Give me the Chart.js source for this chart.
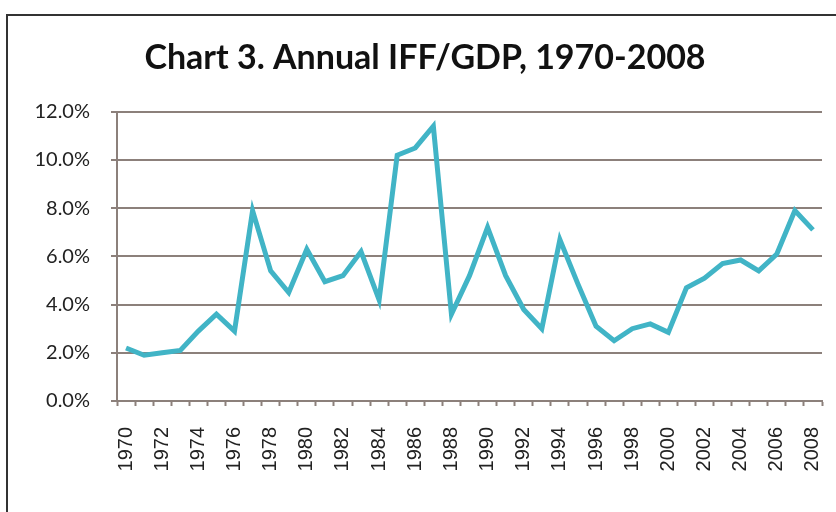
<!DOCTYPE html>
<html>
<head>
<meta charset="utf-8">
<script src="https://cdn.jsdelivr.net/npm/chart.js@4"></script>
<style>
  html, body { margin: 0; padding: 0; background: #ffffff; overflow: hidden; }
  #wrap { position: relative; width: 836px; height: 512px; }
  #frame { position: absolute; left: 6px; top: 14px; width: 900px; height: 600px; border: 2px solid #333333; box-sizing: border-box; }
  canvas { position: absolute; left: 0; top: 0; }
</style>
</head>
<body>
<div id="wrap">
  <div id="frame"></div>
  <canvas id="c" width="836" height="512"></canvas>
</div>
<script>
const chartTitle = 'Chart 3. Annual IFF/GDP, 1970-2008';
const years = [];
for (let y = 1970; y <= 2008; y++) years.push(String(y));
const iffGdp = [
  2.2, 1.9, 2.0, 2.1, 2.9, 3.6, 2.9, 7.9, 5.4, 4.5,
  6.3, 4.95, 5.2, 6.2, 4.2, 10.2, 10.5, 11.4, 3.6, 5.2,
  7.2, 5.2, 3.8, 3.0, 6.7, 4.85, 3.1, 2.5, 3.0, 3.2,
  2.85, 4.7, 5.1, 5.7, 5.85, 5.4, 6.1, 7.9, 7.1
];
const yTicks = [0, 2, 4, 6, 8, 10, 12];

const gridColor = '#8c807b';

new Chart(document.getElementById('c'), {
  type: 'line',
  data: {
    labels: years,
    datasets: [{
      data: iffGdp,
      borderColor: '#41b4c6',
      borderWidth: 5,
      pointRadius: 0,
      tension: 0,
      fill: false
    }]
  },
  options: {
    responsive: false,
    animation: false,
    layout: { padding: { left: 28, right: 14, top: 0, bottom: 0 } },
    plugins: {
      legend: { display: false },
      tooltip: { enabled: false },
      title: {
        display: true,
        text: chartTitle,
        color: '#111111',
        font: { family: 'Lato', size: 34, weight: 'bold', lineHeight: 1.2 },
        padding: { top: 38, bottom: 33 }
      }
    },
    scales: {
      x: {
        type: 'category',
        offset: true,
        grid: {
          offset: true,
          drawOnChartArea: false,
          drawTicks: true,
          tickLength: 5,
          tickColor: gridColor,
          tickWidth: 2
        },
        border: { display: true, color: gridColor, width: 2 },
        ticks: {
          autoSkip: false,
          minRotation: 90,
          maxRotation: 90,
          padding: 21,
          color: '#222222',
          font: { family: 'Liberation Sans', size: 20 },
          callback: function (v, i) { return i % 2 === 0 ? years[i] : ''; }
        },
        afterFit: function (s) { s.height = 111; s.paddingLeft = 0; s.paddingRight = 0; }
      },
      y: {
        min: 0,
        max: 12,
        afterBuildTicks: function (s) { s.ticks = yTicks.map(v => ({ value: v })); },
        grid: {
          color: gridColor,
          lineWidth: 2,
          drawTicks: true,
          tickLength: 6,
          tickColor: gridColor
        },
        border: { display: true, color: gridColor, width: 2 },
        ticks: {
          padding: 21,
          color: '#222222',
          font: { family: 'Lato', size: 20 },
          callback: function (v) { return Number(v).toFixed(1) + '%'; }
        },
        afterFit: function (s) { s.width = 89; }
      }
    }
  }
});
</script>
</body>
</html>
